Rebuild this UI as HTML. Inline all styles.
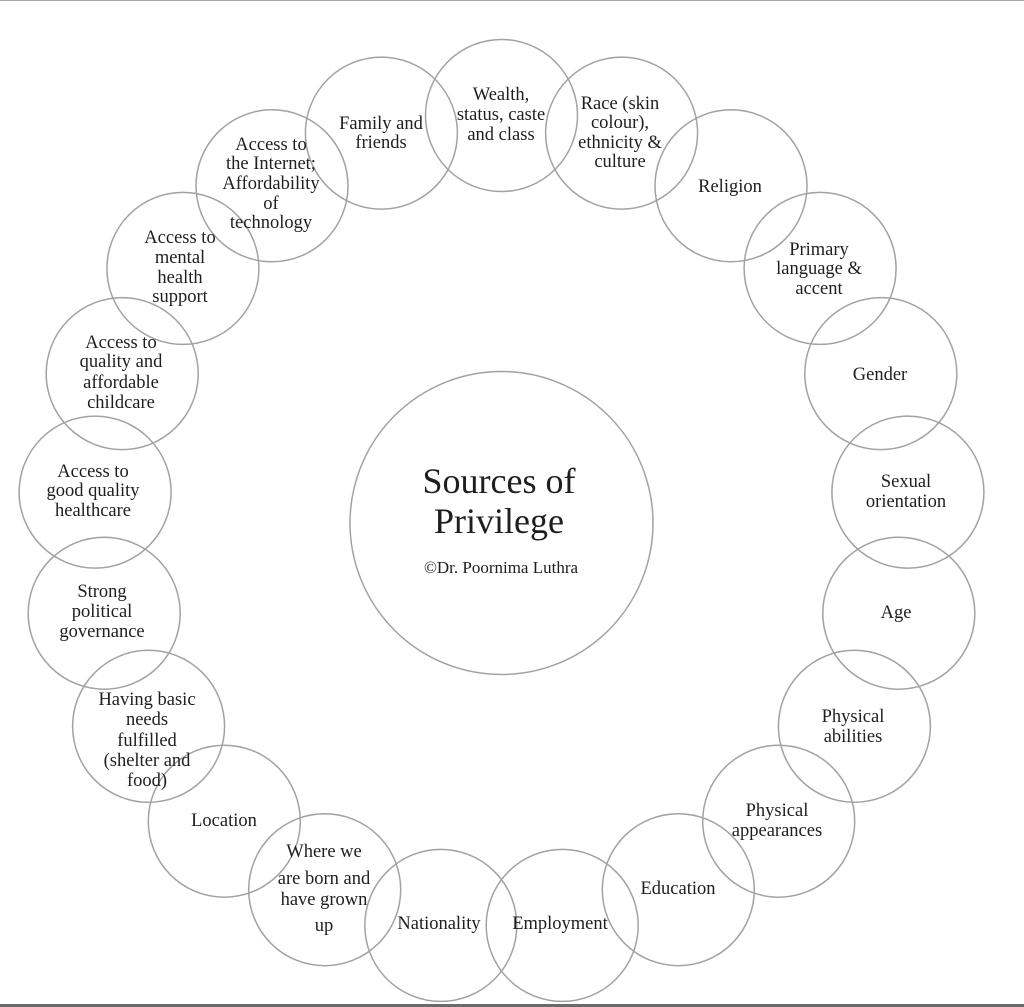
<!DOCTYPE html>
<html>
<head>
<meta charset="utf-8">
<style>
  html, body { margin:0; padding:0; background:#fff; }
  body { width:1024px; height:1007px; overflow:hidden; position:relative; }
  svg { position:absolute; left:0; top:0; }
  text { font-family:"Liberation Serif", "DejaVu Serif", serif; fill:#1e1e1e; text-anchor:middle; }
  .l { font-size:18.5px; }
</style>
</head>
<body>
<svg width="1024" height="1007" viewBox="0 0 1024 1007" xmlns="http://www.w3.org/2000/svg">
  <rect x="0" y="0" width="1024" height="1007" fill="#fff"/>
  <rect x="0" y="0" width="1024" height="1" fill="#a8a8a8"/>
  <rect x="0" y="1004" width="1024" height="3" fill="#6a6a6a"/>

  <g fill="none" stroke="#a2a2a2" stroke-width="1.5">
    <circle cx="501.5" cy="523" r="151.5"/>
    <circle cx="501.5" cy="115.5" r="76"/>
    <circle cx="621.6" cy="133.1" r="76"/>
    <circle cx="731.0" cy="185.8" r="76"/>
    <circle cx="820.1" cy="268.4" r="76"/>
    <circle cx="880.8" cy="373.6" r="76"/>
    <circle cx="907.9" cy="492.1" r="76"/>
    <circle cx="898.8" cy="613.2" r="76"/>
    <circle cx="854.4" cy="726.3" r="76"/>
    <circle cx="778.7" cy="821.2" r="76"/>
    <circle cx="678.3" cy="889.7" r="76"/>
    <circle cx="562.2" cy="925.4" r="76"/>
    <circle cx="440.8" cy="925.4" r="76"/>
    <circle cx="324.7" cy="889.7" r="76"/>
    <circle cx="224.3" cy="821.2" r="76"/>
    <circle cx="148.6" cy="726.3" r="76"/>
    <circle cx="104.2" cy="613.2" r="76"/>
    <circle cx="95.1" cy="492.1" r="76"/>
    <circle cx="122.2" cy="373.6" r="76"/>
    <circle cx="182.9" cy="268.4" r="76"/>
    <circle cx="272.0" cy="185.8" r="76"/>
    <circle cx="381.4" cy="133.1" r="76"/>
  </g>

  <!-- Center -->
  <text x="499" y="493" style="font-size:36px">Sources of</text>
  <text x="499" y="533" style="font-size:36px">Privilege</text>
  <text x="501" y="573" style="font-size:17px">©Dr. Poornima Luthra</text>

  <!-- Labels -->
  <g class="l">
    <text x="501" y="100">Wealth,</text>
    <text x="501" y="120">status, caste</text>
    <text x="501" y="140">and class</text>

    <text x="620" y="109">Race (skin</text>
    <text x="620" y="128">colour),</text>
    <text x="620" y="148">ethnicity &amp;</text>
    <text x="620" y="167">culture</text>

    <text x="730" y="192">Religion</text>

    <text x="819" y="255">Primary</text>
    <text x="819" y="274">language &amp;</text>
    <text x="819" y="294">accent</text>

    <text x="880" y="380">Gender</text>

    <text x="906" y="487">Sexual</text>
    <text x="906" y="507">orientation</text>

    <text x="896" y="618">Age</text>

    <text x="853" y="722">Physical</text>
    <text x="853" y="742">abilities</text>

    <text x="777" y="816">Physical</text>
    <text x="777" y="836">appearances</text>

    <text x="678" y="894">Education</text>

    <text x="560" y="929">Employment</text>

    <text x="439" y="929">Nationality</text>

    <text x="324" y="857">Where we</text>
    <text x="324" y="884">are born and</text>
    <text x="324" y="905">have grown</text>
    <text x="324" y="931">up</text>

    <text x="224" y="826">Location</text>

    <text x="147" y="705">Having basic</text>
    <text x="147" y="725">needs</text>
    <text x="147" y="746">fulfilled</text>
    <text x="147" y="766">(shelter and</text>
    <text x="147" y="786">food)</text>

    <text x="102" y="597">Strong</text>
    <text x="102" y="617">political</text>
    <text x="102" y="637">governance</text>

    <text x="93" y="477">Access to</text>
    <text x="93" y="496">good quality</text>
    <text x="93" y="516">healthcare</text>

    <text x="121" y="348">Access to</text>
    <text x="121" y="367">quality and</text>
    <text x="121" y="388">affordable</text>
    <text x="121" y="408">childcare</text>

    <text x="180" y="243">Access to</text>
    <text x="180" y="263">mental</text>
    <text x="180" y="283">health</text>
    <text x="180" y="302">support</text>

    <text x="271" y="150">Access to</text>
    <text x="271" y="169">the Internet;</text>
    <text x="271" y="189">Affordability</text>
    <text x="271" y="209">of</text>
    <text x="271" y="228">technology</text>

    <text x="381" y="129">Family and</text>
    <text x="381" y="148">friends</text>
  </g>
</svg>
</body>
</html>
